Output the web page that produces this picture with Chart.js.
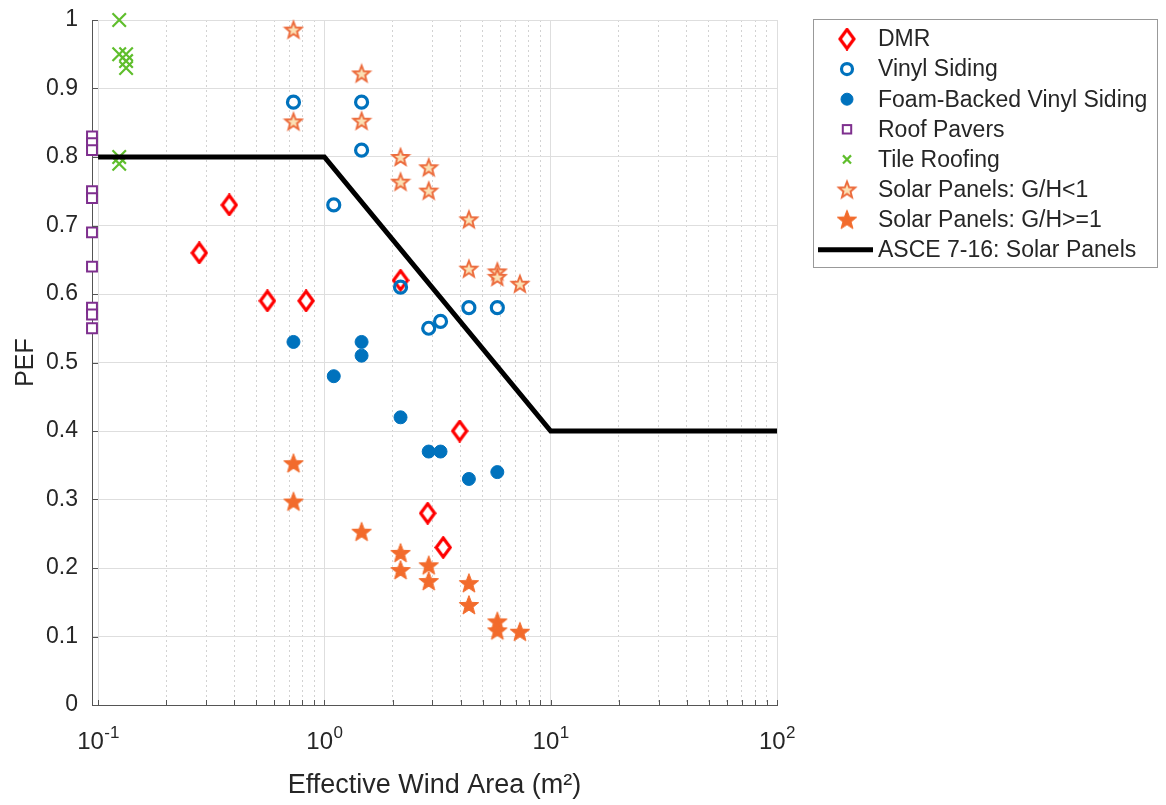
<!DOCTYPE html>
<html><head><meta charset="utf-8">
<script src="https://cdn.jsdelivr.net/npm/chart.js@4.4.1/dist/chart.umd.min.js"></script>
<style>html,body{margin:0;padding:0;background:#fff;overflow:hidden}</style>
</head><body>
<canvas id="c" width="1166" height="805"></canvas>
<script>
// ---------------- data ----------------
const seriesNames = ['DMR','Vinyl Siding','Foam-Backed Vinyl Siding','Roof Pavers','Tile Roofing','Solar Panels: G/H<1','Solar Panels: G/H>=1','ASCE 7-16: Solar Panels'];
const dmrX = [0.28, 0.38, 0.56, 0.83, 2.17, 3.96, 2.86, 3.35];
const dmrY = [0.66, 0.73, 0.59, 0.59, 0.62, 0.40, 0.28, 0.23];
const vinylX = [0.73, 1.46, 1.46, 1.10, 2.17, 2.89, 3.26, 4.35, 5.81];
const vinylY = [0.88, 0.88, 0.81, 0.73, 0.61, 0.55, 0.56, 0.58, 0.58];
const foamX = [0.73, 1.10, 1.46, 1.46, 2.17, 2.89, 3.26, 4.35, 5.81];
const foamY = [0.53, 0.48, 0.53, 0.51, 0.42, 0.37, 0.37, 0.33, 0.34];
const paverX = [0.094, 0.094, 0.094, 0.094, 0.094, 0.094, 0.094, 0.094, 0.094, 0.094];
const paverY = [0.83, 0.82, 0.81, 0.75, 0.74, 0.69, 0.64, 0.58, 0.57, 0.55];
const tileX = [0.124, 0.124, 0.133, 0.133, 0.133, 0.124, 0.124];
const tileY = [1.00, 0.95, 0.95, 0.94, 0.93, 0.80, 0.79];
const solarLowX = [0.73, 0.73, 1.46, 1.46, 2.17, 2.17, 2.89, 2.89, 4.35, 4.35, 5.81, 5.81, 7.31];
const solarLowY = [0.986, 0.852, 0.922, 0.853, 0.800, 0.764, 0.785, 0.751, 0.709, 0.637, 0.633, 0.625, 0.615];
const solarHighX = [0.73, 0.73, 1.46, 2.17, 2.17, 2.89, 2.89, 4.35, 4.35, 5.81, 5.81, 7.31];
const solarHighY = [0.353, 0.297, 0.253, 0.222, 0.197, 0.204, 0.181, 0.178, 0.146, 0.122, 0.109, 0.107];
const asceX = [0.1, 1, 10, 100];
const asceY = [0.8, 0.8, 0.4, 0.4];
const xTickBase = '10';
const xTickExponents = {'-1':'-1', '0':'0', '1':'1', '2':'2'};
const yTickValues = [0,0.1,0.2,0.3,0.4,0.5,0.6,0.7,0.8,0.9,1];

// ---------------- styling helpers ----------------
const FONT = "'Liberation Sans', Arial, Helvetica, sans-serif";
const TXT = '#262626';
function mk(w, h, draw){ const c=document.createElement('canvas'); c.width=w; c.height=h; const g=c.getContext('2d'); draw(g,w,h); return c; }
function starPath(g, cx, cy, R, r){ g.beginPath(); for(let k=0;k<10;k++){ const a=-Math.PI/2+k*Math.PI/5; const rr=k%2?r:R; const px=cx+rr*Math.cos(a), py=cy+rr*Math.sin(a); k?g.lineTo(px,py):g.moveTo(px,py);} g.closePath(); }
const starOpen = mk(22,22,(g,w,h)=>{ starPath(g,w/2,h/2+0.8,8.6,3.7); g.fillStyle='#FBE0B4'; g.fill(); g.lineWidth=1.9; g.lineJoin='miter'; g.strokeStyle='#EC6A3B'; g.stroke(); });
const starFilled = mk(24,24,(g,w,h)=>{ starPath(g,w/2,h/2+0.8,10.2,4.3); g.fillStyle='#F26B2C'; g.fill(); g.lineWidth=1; g.strokeStyle='#F26B2C'; g.stroke(); });
const diamond = mk(18,23,(g,w,h)=>{ g.beginPath(); g.moveTo(w/2,2); g.lineTo(w-2,h/2); g.lineTo(w/2,h-2); g.lineTo(2,h/2); g.closePath(); g.fillStyle='#fff'; g.fill(); g.lineWidth=3.2; g.strokeStyle='#FF0000'; g.stroke(); });

const pts = (xs, ys) => xs.map((x,i)=>({x, y: ys[i]}));
const isPow10 = v => Math.abs(Math.log10(v) - Math.round(Math.log10(v))) < 1e-6;

const datasets = [
  {label:seriesNames[0], data:pts(dmrX,dmrY), pointStyle:diamond, pointRadius:9, showLine:false},
  {label:seriesNames[1], data:pts(vinylX,vinylY), pointStyle:'circle', pointRadius:6, borderWidth:3.2, borderColor:'#0072BD', backgroundColor:'rgba(255,255,255,0)', showLine:false},
  {label:seriesNames[2], data:pts(foamX,foamY), pointStyle:'circle', pointRadius:6.5, borderWidth:1, borderColor:'#0072BD', backgroundColor:'#0072BD', showLine:false},
  {label:seriesNames[3], data:pts(paverX,paverY), pointStyle:'rect', pointRadius:7, borderWidth:2, borderColor:'#7E2F8E', backgroundColor:'#ffffff', showLine:false},
  {label:seriesNames[4], data:pts(tileX,tileY), pointStyle:'crossRot', pointRadius:9.5, borderWidth:2.2, borderColor:'#5FBE2C', backgroundColor:'#5FBE2C', showLine:false},
  {label:seriesNames[5], data:pts(solarLowX,solarLowY), pointStyle:starOpen, pointRadius:10, showLine:false},
  {label:seriesNames[6], data:pts(solarHighX,solarHighY), pointStyle:starFilled, pointRadius:11, showLine:false},
  {label:seriesNames[7], data:pts(asceX,asceY), type:'line', showLine:true, pointRadius:0, borderColor:'#000000', borderWidth:5, fill:false, tension:0}
].map((d,i)=>Object.assign({clip:false, order:10-i, pointHoverRadius:d.pointRadius}, d));

// ---------------- plugins ----------------
const innerTicks = {
  id:'innerTicks',
  afterDraw(chart){
    const {ctx, chartArea:a, scales:{x,y}} = chart;
    ctx.save(); ctx.strokeStyle='#555'; ctx.lineWidth=1;
    x.ticks.forEach(t=>{ const px=Math.round(x.getPixelForValue(t.value))+0.5; ctx.beginPath(); ctx.moveTo(px,a.bottom); ctx.lineTo(px,a.bottom-5); ctx.stroke(); });
    y.ticks.forEach(t=>{ const py=Math.round(y.getPixelForValue(t.value))+0.5; ctx.beginPath(); ctx.moveTo(a.left,py); ctx.lineTo(a.left+6,py); ctx.stroke(); });
    // decade labels with superscript exponents
    ctx.fillStyle = TXT; ctx.textBaseline='alphabetic'; ctx.textAlign='left';
    x.ticks.forEach(t=>{
      if (!isPow10(t.value)) return;
      const e = xTickExponents[String(Math.round(Math.log10(t.value)))];
      const px = x.getPixelForValue(t.value);
      ctx.font = '24px '+FONT; const w1 = ctx.measureText(xTickBase).width;
      ctx.font = '17px '+FONT; const w2 = ctx.measureText(e).width;
      const x0 = px - (w1+w2)/2;
      ctx.font = '24px '+FONT; ctx.fillText(xTickBase, x0, a.bottom+44);
      ctx.font = '17px '+FONT; ctx.fillText(e, x0+w1+0.5, a.bottom+33);
    });
    ctx.restore();
  }
};
function drawMarker(ctx, ds, cx, cy){
  const ps = ds.pointStyle;
  ctx.save();
  if (ps instanceof HTMLCanvasElement){ ctx.drawImage(ps, cx-ps.width/2, cy-ps.height/2); }
  else if (ps==='circle'){ ctx.beginPath(); ctx.arc(cx,cy,ds.pointRadius-0.5,0,Math.PI*2); ctx.fillStyle=ds.backgroundColor; ctx.fill(); ctx.lineWidth=ds.borderWidth; ctx.strokeStyle=ds.borderColor; ctx.stroke(); }
  else if (ps==='rect'){ const s=ds.pointRadius*Math.SQRT1_2*0.85; ctx.fillStyle=ds.backgroundColor; ctx.fillRect(cx-s,cy-s,2*s,2*s); ctx.lineWidth=ds.borderWidth; ctx.strokeStyle=ds.borderColor; ctx.strokeRect(cx-s,cy-s,2*s,2*s); }
  else if (ps==='crossRot'){ const s=ds.pointRadius*Math.SQRT1_2*0.6; ctx.lineWidth=ds.borderWidth; ctx.strokeStyle=ds.borderColor; ctx.beginPath(); ctx.moveTo(cx-s,cy-s); ctx.lineTo(cx+s,cy+s); ctx.moveTo(cx+s,cy-s); ctx.lineTo(cx-s,cy+s); ctx.stroke(); }
  ctx.restore();
}
const boxLegend = {
  id:'boxLegend',
  afterDraw(chart){
    const ctx = chart.ctx;
    const L=813.5, T=19.5, W=344, H=248;
    ctx.save();
    ctx.fillStyle='#fff'; ctx.fillRect(L,T,W,H);
    ctx.strokeStyle='#999'; ctx.lineWidth=1; ctx.strokeRect(L,T,W,H);
    ctx.font = '23px '+FONT; ctx.fillStyle=TXT; ctx.textBaseline='middle'; ctx.textAlign='left';
    chart.data.datasets.forEach((ds,i)=>{
      const cy = 39 + i*30.1;
      if (ds.type==='line'){ ctx.strokeStyle=ds.borderColor; ctx.lineWidth=ds.borderWidth; ctx.beginPath(); ctx.moveTo(818,cy); ctx.lineTo(873,cy); ctx.stroke(); }
      else drawMarker(ctx, ds, 847, cy);
      ctx.fillStyle=TXT; ctx.fillText(ds.label, 878, cy+1);
    });
    ctx.restore();
  }
};

// ---------------- chart ----------------
new Chart(document.getElementById('c'), {
  type:'scatter',
  data:{datasets},
  plugins:[innerTicks, boxLegend],
  options:{
    responsive:false, animation:false, devicePixelRatio:1,
    layout:{padding:{top:20, right:389, bottom:0, left:0}},
    plugins:{legend:{display:false}, tooltip:{enabled:false}},
    scales:{
      x:{
        type:'logarithmic', min:0.094, max:100,
        afterBuildTicks(scale){
          const t=[]; for(let e=-1;e<=1;e++) for(let m=1;m<=9;m++) t.push({value:parseFloat((m*Math.pow(10,e)).toPrecision(3)), major:m===1});
          t.push({value:100, major:true}); scale.ticks=t;
        },
        afterFit(scale){ scale.height=100; scale.paddingLeft=0; scale.paddingRight=0; },
        ticks:{display:false, autoSkip:false, maxRotation:0, minRotation:0},
        grid:{drawTicks:false, color:(c)=> c.tick && isPow10(c.tick.value) ? '#DEDEDE' : '#D2D2D2', lineWidth:1},
        border:{display:true, color:'#555', width:1, dash:(c)=> c.tick && !isPow10(c.tick.value) ? [2,3] : []},
        title:{display:true, text:'Effective Wind Area (m\u00B2)', color:TXT, font:{family:FONT, size:27}, padding:{top:0,bottom:3}}
      },
      y:{
        type:'linear', min:0, max:1,
        afterBuildTicks(scale){ scale.ticks = yTickValues.map(v=>({value:v})); },
        afterFit(scale){ scale.width=92; scale.paddingTop=0; scale.paddingBottom=0; },
        ticks:{padding:14, color:TXT, font:{family:FONT, size:23}, callback:(v)=> String(+(+v).toFixed(1))},
        grid:{drawTicks:false, color:'#DEDEDE', lineWidth:1},
        border:{display:true, color:'#555', width:1},
        title:{display:true, text:'PEF', color:TXT, font:{family:FONT, size:25}, padding:{top:11,bottom:0}}
      }
    }
  }
});
</script>
</body></html>
